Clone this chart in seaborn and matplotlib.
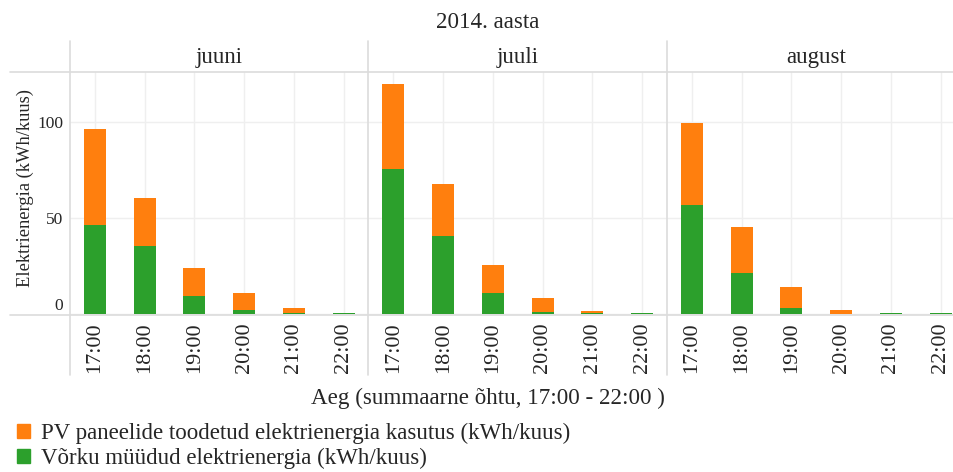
import pandas as pd
import seaborn as sns
import matplotlib.pyplot as plt
from matplotlib.lines import Line2D
from matplotlib.patches import Patch

months = ['juuni', 'juuli', 'august']
hours = ['17:00', '18:00', '19:00', '20:00', '21:00', '22:00']

# Võrku müüdud elektrienergia (kWh/kuus)
grid_juuni = [46.4, 35.4, 9.4, 2.1, 0.7, 0.3]
grid_juuli = [75.5, 40.6, 10.9, 1.0, 0.3, 0.3]
grid_august = [56.8, 21.4, 3.1, 0.2, 0.3, 0.3]

# PV paneelide toodetud elektrienergia kasutus (kWh/kuus)
pv_juuni = [50.0, 25.0, 14.6, 8.9, 2.4, 0.0]
pv_juuli = [44.3, 27.1, 14.6, 7.3, 1.3, 0.0]
pv_august = [42.7, 23.9, 10.9, 1.9, 0.0, 0.0]

pv_label = 'PV paneelide toodetud elektrienergia kasutus (kWh/kuus)'
grid_label = 'Võrku müüdud elektrienergia (kWh/kuus)'
orange = '#ff7f0e'
green = '#2ca02c'

rows = []
for m, g, p in zip(months, [grid_juuni, grid_juuli, grid_august],
                   [pv_juuni, pv_juuli, pv_august]):
    for h, gv, pvv in zip(hours, g, p):
        rows.append({'kuu': m, 'aeg': h, 'grid': gv, 'pv': pvv})
df = pd.DataFrame(rows)
df['total'] = df['grid'] + df['pv']

sns.set_style('white')
plt.rcParams['font.family'] = ['Liberation Serif', 'DejaVu Serif']

W, H = 954, 472
fig = plt.figure(figsize=(W / 100, H / 100), dpi=100)

panel_w = 298.5
left_px = [70, 368.5, 667]
top_px, bottom_px = 72, 315

for i, (m, lp) in enumerate(zip(months, left_px)):
    ax = fig.add_axes([lp / W, 1 - bottom_px / H, panel_w / W, (bottom_px - top_px) / H])
    sub = df[df['kuu'] == m]
    # stacked: total (orange) behind, grid share (green) in front
    sns.barplot(data=sub, x='aeg', y='total', color=orange, saturation=1,
                width=0.44, ax=ax, errorbar=None, linewidth=0)
    sns.barplot(data=sub, x='aeg', y='grid', color=green, saturation=1,
                width=0.44, ax=ax, errorbar=None, linewidth=0)
    ax.set_ylim(-0.5, 126)
    ax.set_xlim(-0.5, 5.5)
    ax.set_yticks([0, 50, 100])
    ax.grid(True, color='#efefef', lw=1)
    ax.set_axisbelow(True)
    for s in ax.spines.values():
        s.set_visible(False)
    ax.set_xlabel('')
    ax.set_ylabel('')
    ax.tick_params(axis='x', rotation=90, labelsize=16, length=0, pad=5)
    if i == 0:
        ax.tick_params(axis='y', labelsize=12.5, length=0, pad=5)
        ax.get_yticklabels()[0].set_verticalalignment('bottom')
    else:
        ax.tick_params(axis='y', labelleft=False, length=0)
    fig.text((lp + panel_w / 2) / W, 1 - 57 / H, m, ha='center', va='center', fontsize=16.5)

# separators and frame lines
for x in left_px:
    fig.add_artist(Line2D([x / W, x / W], [1 - 41 / H, 1 - 375 / H], color='#dcdcdc', lw=1.2))
for y in (top_px, bottom_px):
    fig.add_artist(Line2D([10 / W, 1], [1 - y / H, 1 - y / H], color='#dcdcdc', lw=1.2))

fig.text(488 / W, 1 - 22 / H, '2014. aasta', ha='center', va='center', fontsize=16.6)
fig.text(25 / W, 1 - 188 / H, 'Elektrienergia (kWh/kuus)', rotation=90,
         ha='center', va='center', fontsize=13.3)
fig.text(488 / W, 1 - 398 / H, 'Aeg (summaarne õhtu, 17:00 - 22:00 )',
         ha='center', va='center', fontsize=16.6)

handles = [Patch(color=orange), Patch(color=green)]
fig.legend(handles, [pv_label, grid_label], loc='upper left',
           bbox_to_anchor=(17 / W, 1 - 423 / H), frameon=False, fontsize=16.5,
           handlelength=0.55, handleheight=0.55, handletextpad=0.5,
           labelspacing=0.15, borderpad=0, borderaxespad=0)

fig.savefig('out.png', dpi=100)
